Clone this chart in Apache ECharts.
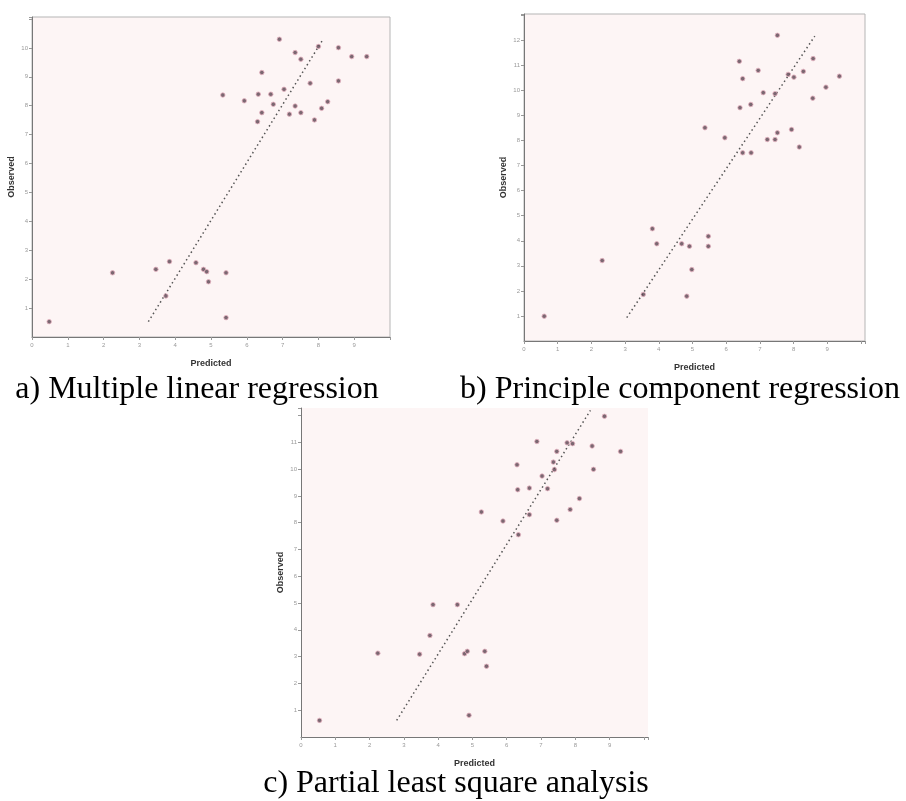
<!DOCTYPE html>
<html>
<head>
<meta charset="utf-8">
<title>Observed vs predicted</title>
<script src="https://cdn.jsdelivr.net/npm/echarts@6.0.0/dist/echarts.min.js"></script>
<style>
  html, body { margin: 0; padding: 0; background: #fff; }
  #chart { width: 906px; height: 801px; }
</style>
</head>
<body>
<div id="chart"></div>
<script>
// a) Multiple linear regression
const predA = [6.91, 7.35, 7.51, 8.00, 8.56, 8.93, 9.35, 6.42, 7.77, 8.56, 7.04, 5.33, 5.93, 6.32, 6.67, 6.74, 6.42, 6.30,
  7.19, 7.35, 7.51, 7.89, 8.09, 8.26, 2.25, 3.46, 3.84, 4.58, 4.79, 4.88, 4.93, 5.42, 3.74, 5.42, 0.48]
const obsA = [10.30, 9.84, 9.61, 10.05, 10.01, 9.70, 9.70, 9.15, 8.78, 8.86, 8.57, 8.37, 8.17, 8.40, 8.40, 8.05, 7.76, 7.45,
  7.71, 7.99, 7.76, 7.51, 7.91, 8.14, 2.22, 2.34, 2.61, 2.57, 2.34, 2.26, 1.91, 2.22, 1.42, 0.67, 0.53]
const fitAx = [3.25, 8.10]
const fitAy = [0.53, 10.24]

// b) Principle component regression
const predB = [7.52, 6.39, 8.58, 6.95, 6.49, 7.84, 8.01, 8.29, 9.36, 8.96, 7.10, 7.45, 8.57, 6.73, 6.41, 5.37, 5.96, 7.94,
  7.22, 7.45, 7.52, 8.17, 6.49, 6.74, 3.81, 3.94, 4.68, 4.91, 5.47, 5.47, 4.98, 4.83, 2.32, 3.54, 0.60]
const obsB = [12.20, 11.16, 11.27, 10.80, 10.47, 10.64, 10.53, 10.76, 10.57, 10.13, 9.91, 9.87, 9.69, 9.44, 9.31, 8.51, 8.11, 8.44,
  8.04, 8.04, 8.31, 7.74, 7.51, 7.51, 4.48, 3.88, 3.88, 3.78, 4.18, 3.78, 2.85, 1.79, 3.21, 1.86, 0.99]
const fitBx = [3.05, 8.63]
const fitBy = [0.93, 12.17]

// c) Partial least square analysis
const predC = [8.85, 6.88, 7.76, 7.92, 8.49, 9.32, 7.46, 7.36, 6.30, 7.39, 8.53, 7.03, 6.32, 6.66, 7.19, 8.12, 7.85, 7.46,
  5.26, 5.89, 6.66, 6.34, 3.85, 4.56, 3.76, 2.24, 3.46, 4.77, 4.85, 5.36, 5.41, 4.90, 0.54]
const obsC = [11.97, 11.03, 10.98, 10.95, 10.86, 10.66, 10.66, 10.26, 10.16, 9.98, 9.99, 9.74, 9.23, 9.29, 9.27, 8.90, 8.49, 8.09,
  8.40, 8.06, 8.30, 7.55, 4.94, 4.94, 3.79, 3.13, 3.09, 3.11, 3.20, 3.20, 2.64, 0.81, 0.62]
const fitCx = [2.79, 8.44]
const fitCy = [0.62, 12.19]

const captions = ['a) Multiple linear regression', 'b) Principle component regression', 'c) Partial least square analysis']
const xTitle = 'Predicted'
const yTitle = 'Observed'
// highest tick that carries a label on each axis
const xLastLabel = [9, 9, 9]
const yLastLabel = [10, 12, 11]

const bg = '#fdf5f5'

function zip(xs, ys) {
  return xs.map((x, i) => [x, ys[i]])
}

function xAxisFor(idx, max) {
  return {
    gridIndex: idx,
    type: 'value',
    min: 0,
    max: max,
    interval: 1,
    name: xTitle,
    nameLocation: 'middle',
    nameGap: 22,
    nameTextStyle: { fontSize: 9, color: '#333', fontWeight: 'bold', fontFamily: 'Liberation Sans' },
    splitLine: { show: false },
    axisLine: { lineStyle: { color: '#777' } },
    axisTick: { length: 3, lineStyle: { color: '#999' } },
    axisLabel: {
      fontSize: 6, color: '#999', margin: 5,
      formatter: v => (v > xLastLabel[idx] ? '' : String(v))
    }
  }
}

function yAxisFor(idx, max) {
  return {
    gridIndex: idx,
    type: 'value',
    min: 0,
    max: max,
    interval: 1,
    name: yTitle,
    nameLocation: 'middle',
    nameGap: 16,
    nameTextStyle: { fontSize: 9, color: '#333', fontWeight: 'bold', fontFamily: 'Liberation Sans' },
    splitLine: { show: false },
    axisLine: { lineStyle: { color: '#777' } },
    axisTick: { length: 3, lineStyle: { color: '#999' } },
    axisLabel: {
      fontSize: 6, color: '#999', margin: 4, showMinLabel: false,
      formatter: v => (v > yLastLabel[idx] ? '' : String(v))
    }
  }
}

function scatterFor(idx, xs, ys) {
  return {
    type: 'scatter',
    xAxisIndex: idx,
    yAxisIndex: idx,
    data: zip(xs, ys),
    symbol: 'circle',
    symbolSize: 4.5,
    itemStyle: { color: '#5a4350', borderColor: '#e6b3c1', borderWidth: 1 },
    z: 3
  }
}

function fitFor(idx, xs, ys) {
  return {
    type: 'line',
    xAxisIndex: idx,
    yAxisIndex: idx,
    data: zip(xs, ys),
    showSymbol: false,
    lineStyle: { color: '#555', width: 1.5, type: [1.5, 3] },
    z: 2
  }
}

const chart = echarts.init(document.getElementById('chart'), null, { renderer: 'canvas' })

const option = {
  animation: false,
  backgroundColor: '#fff',
  grid: [
    { left: 32, top: 17, width: 358, height: 320, show: true, backgroundColor: bg, borderColor: '#b5b5b5', borderWidth: 1 },
    { left: 524, top: 14, width: 341, height: 327, show: true, backgroundColor: bg, borderColor: '#b5b5b5', borderWidth: 1 },
    { left: 301, top: 408, width: 347, height: 329, show: true, backgroundColor: bg, borderWidth: 0 }
  ],
  xAxis: [xAxisFor(0, 10), xAxisFor(1, 10.12), xAxisFor(2, 10.12)],
  yAxis: [yAxisFor(0, 11.07), yAxisFor(1, 13.05), yAxisFor(2, 12.28)],
  series: [
    fitFor(0, fitAx, fitAy), scatterFor(0, predA, obsA),
    fitFor(1, fitBx, fitBy), scatterFor(1, predB, obsB),
    fitFor(2, fitCx, fitCy), scatterFor(2, predC, obsC)
  ],
  graphic: [
    [197, 390], [680, 390], [456, 784]
  ].map((p, i) => ({
    type: 'text',
    x: p[0],
    y: p[1],
    style: {
      text: captions[i],
      fill: '#000',
      font: '32px "Liberation Serif", "Times New Roman", serif',
      align: 'center',
      verticalAlign: 'middle'
    }
  }))
}

chart.setOption(option)
</script>
</body>
</html>
